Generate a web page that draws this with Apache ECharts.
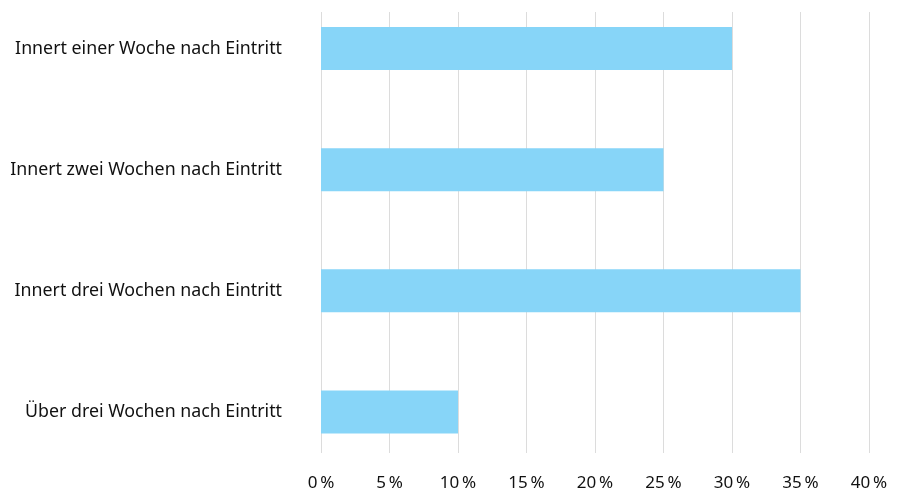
<!DOCTYPE html>
<html>
<head>
<meta charset="utf-8">
<script src="https://cdn.jsdelivr.net/npm/echarts@6/dist/echarts.min.js"></script>
<style>html,body{margin:0;padding:0;background:#fff}#c{width:904px;height:492px}</style>
</head>
<body>
<div id="c"></div>
<script>
const categories = ["Innert einer Woche nach Eintritt", "Innert zwei Wochen nach Eintritt", "Innert drei Wochen nach Eintritt", "Über drei Wochen nach Eintritt"];
const values = [30, 25, 35, 10];
const axisMin = 0, axisMax = 40, axisStep = 5;

const chart = echarts.init(document.getElementById('c'));
const font = 'Noto Sans';
chart.setOption({
  animation: false,
  grid: [
    {left: 321, right: 35, top: 48.5, height: 363.5},
    {left: 321, right: 35, top: 12, bottom: 39}
  ],
  xAxis: [
    {gridIndex: 0, type: 'value', min: axisMin, max: axisMax, interval: axisStep, show: false},
    {gridIndex: 1, type: 'value', min: axisMin, max: axisMax, interval: axisStep,
     axisLine: {show: false}, axisTick: {show: false},
     splitLine: {show: true, lineStyle: {color: '#dcdcdc', width: 1}},
     axisLabel: {formatter: '{value}\u2009%', color: '#111', fontFamily: font, fontSize: 17, margin: 22}}
  ],
  yAxis: [
    {gridIndex: 0, type: 'category', data: categories, inverse: true, boundaryGap: false,
     axisLine: {show: false}, axisTick: {show: false}, splitLine: {show: false},
     axisLabel: {color: '#111', fontFamily: font, fontSize: 17.8, margin: 39}},
    {gridIndex: 1, type: 'value', min: 0, max: 1, show: false}
  ],
  series: [{
    type: 'bar', xAxisIndex: 0, yAxisIndex: 0, data: values, barWidth: 43,
    itemStyle: {color: '#87d5f8'}, z: 3
  }]
});
</script>
</body>
</html>
